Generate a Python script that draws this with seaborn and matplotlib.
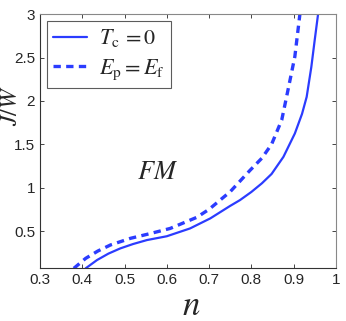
# plot.py
# phase boundary J/W against filling n, two criteria

import pandas as pd
import matplotlib.pyplot as plt
import seaborn as sns

# solid curve: T_c = 0
n_tc = [0.408, 0.435, 0.462, 0.490, 0.520, 0.553, 0.600, 0.655, 0.703, 0.750,
        0.773, 0.800, 0.825, 0.848, 0.876, 0.903, 0.920, 0.931, 0.942, 0.950,
        0.958]
j_tc = [0.07, 0.166, 0.24, 0.30, 0.35, 0.396, 0.44, 0.53, 0.646, 0.79,
        0.856, 0.95, 1.05, 1.158, 1.355, 1.624, 1.85, 2.046, 2.39, 2.70,
        3.0]

# dashed curve: E_p = E_f
n_ep = [0.380, 0.408, 0.437, 0.467, 0.514, 0.560, 0.608, 0.671, 0.700, 0.726,
        0.750, 0.797, 0.825, 0.848, 0.872, 0.887, 0.903, 0.915]
j_ep = [0.07, 0.185, 0.27, 0.34, 0.416, 0.47, 0.53, 0.658, 0.75, 0.856,
        0.953, 1.2, 1.34, 1.50, 1.78, 2.13, 2.51, 3.0]

xticks = [0.3, 0.4, 0.5, 0.6, 0.7, 0.8, 0.9, 1]
yticks = [0.5, 1, 1.5, 2, 2.5, 3]

df = pd.concat([
    pd.DataFrame({"n": n_tc, "J": j_tc, "curve": "tc"}),
    pd.DataFrame({"n": n_ep, "J": j_ep, "curve": "ep"}),
])

sns.set_style("ticks")
plt.rcParams["font.family"] = ["Liberation Sans", "DejaVu Sans"]
plt.rcParams["mathtext.fontset"] = "stix"
plt.rcParams["xtick.direction"] = "in"
plt.rcParams["ytick.direction"] = "in"

blue = "#2b3cff"

fig = plt.figure(figsize=(3.46, 3.21), dpi=100)
ax = fig.add_axes([0.1156, 0.164, 0.855, 0.792])

sns.lineplot(data=df[df.curve == "tc"], x="n", y="J", sort=False,
             color=blue, lw=1.6, ax=ax, label=r"$T_{\rm c}\,=\mathit{0}$")
sns.lineplot(data=df[df.curve == "ep"], x="n", y="J", sort=False,
             color=blue, lw=2.4, ls=(0, (2.2, 1.6)), ax=ax,
             label=r"$E_{\rm p}=E_{\rm f}$")

ax.set_xlim(0.3, 1)
ax.set_ylim(0.07, 3)
ax.set_xticks(xticks)
ax.set_xticklabels(["0.3", "0.4", "0.5", "0.6", "0.7", "0.8", "0.9", "1"])
ax.set_yticks(yticks)
ax.set_yticklabels(["0.5", "1", "1.5", "2", "2.5", "3"])
ax.tick_params(labelsize=11, top=True, right=True, length=3, width=0.6)
for s in ax.spines.values():
    s.set_linewidth(0.8)
    s.set_color("#333333")
ax.spines["top"].set_color("#888888")
ax.spines["right"].set_color("#888888")

ax.set_xlabel(r"$n$", fontsize=25, va="center")
ax.xaxis.set_label_coords(0.51, -0.145)
ax.set_ylabel(r"$J/W$", fontsize=17, va="center")
ax.yaxis.set_label_coords(-0.097, 0.64)
ax.text(0.578, 1.18, r"$FM$", fontsize=19, ha="center", va="center")

leg = ax.legend(loc="upper left", fontsize=16, frameon=True, fancybox=False,
                handlelength=1.5, borderpad=0.3, labelspacing=0.35,
                handletextpad=0.55, borderaxespad=0.3)
leg.get_frame().set_edgecolor("#333333")
leg.get_frame().set_linewidth(0.8)

fig.savefig("out.png", dpi=100)
